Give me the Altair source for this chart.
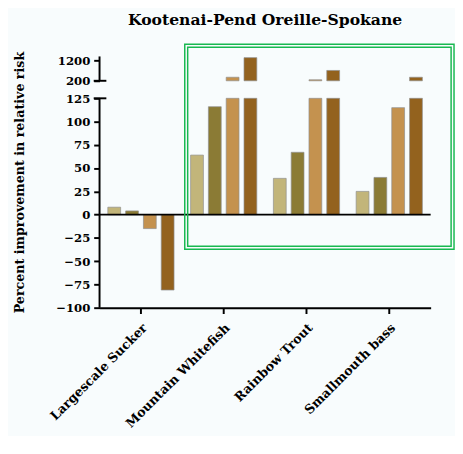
import altair as alt
import pandas as pd

categories = ["Largescale Sucker", "Mountain Whitefish", "Rainbow Trout", "Smallmouth bass"]
series = ["Scenario 1", "Scenario 2", "Scenario 3", "Scenario 4"]
largescale_sucker = [8, 4, -15, -81]
mountain_whitefish = [64, 116, 375, 1340]
rainbow_trout = [39, 67, 250, 710]
smallmouth_bass = [25, 40, 115, 375]
colors = ["#C2B57A", "#8B7B35", "#C4924F", "#93621E"]
y_ticks = [-100, -75, -50, -25, 0, 25, 50, 75, 100, 125, 200, 1200]
axis_segments = {"y0": [-100, 200], "y1": [125, 1400]}
break_marks = [125, 200]

rows = []
for cat, vals in zip(categories, [largescale_sucker, mountain_whitefish, rainbow_trout, smallmouth_bass]):
    for s, v in zip(series, vals):
        rows.append({"cat": cat, "series": s, "value": v})
df = pd.DataFrame(rows)

W, H = 340, 258
FONT = "DejaVu Serif"
yscale = alt.Scale(domain=[-100, 125, 200, 1400], range=[H, 43, 25, 0], nice=False, zero=False)
yaxis = alt.Axis(title="Percent improvement in relative risk", values=y_ticks, format="d",
                 domain=False, grid=False, tickColor="black", tickWidth=2, tickSize=6,
                 labelFont=FONT, labelFontWeight="bold", labelFontSize=12,
                 labelColor="black", labelPadding=4,
                 titleFont=FONT, titleFontWeight="bold", titleFontSize=13,
                 titleColor="black", titlePadding=30)

xenc = alt.X("cat:N", sort=categories,
             scale=alt.Scale(paddingInner=0.2, paddingOuter=0.1),
             axis=alt.Axis(title=None, labelAngle=-45, labelFont=FONT, labelFontWeight="bold",
                           labelFontSize=13, labelColor="black", labelPadding=8,
                           domainColor="black", domainWidth=2, tickColor="black",
                           tickWidth=2, tickSize=6))
xoff = alt.XOffset("series:N", sort=series, scale=alt.Scale(paddingInner=0.28, paddingOuter=0))
color = alt.Color("series:N", sort=series, scale=alt.Scale(domain=series, range=colors), legend=None)

base = alt.Chart(df)

lower = base.transform_calculate(lo="min(datum.value, 125)").mark_bar(
    stroke="#8f8f8f", strokeWidth=1, strokeOpacity=0.7
).encode(
    x=xenc, xOffset=xoff, color=color,
    y=alt.Y("lo:Q", scale=yscale, axis=yaxis),
    y2=alt.datum(0),
)

upper = base.transform_filter("datum.value > 200").mark_bar(
    stroke="#8f8f8f", strokeWidth=1, strokeOpacity=0.7
).encode(
    x=xenc, xOffset=xoff, color=color,
    y=alt.Y("value:Q", scale=yscale, axis=yaxis),
    y2=alt.datum(200),
)

zero_line = alt.Chart(pd.DataFrame({"z": [0]})).mark_rule(color="black", strokeWidth=2).encode(
    y=alt.Y("z:Q", scale=yscale, axis=yaxis)
)

yaxis_line = alt.Chart(pd.DataFrame(axis_segments)).mark_rule(color="black", strokeWidth=2).encode(
    x=alt.value(0), y=alt.Y("y0:Q", scale=yscale, axis=yaxis), y2="y1:Q"
)

breaks = alt.Chart(pd.DataFrame({"b": break_marks})).mark_rule(color="black", strokeWidth=2).encode(
    x=alt.value(-6), x2=alt.value(7), y=alt.Y("b:Q", scale=yscale, axis=yaxis)
)

dummy = pd.DataFrame({"k": [0]})
box_outer = alt.Chart(dummy).mark_rect(fillOpacity=0, stroke="#18B850", strokeWidth=1.5).encode(
    x=alt.value(87.5), x2=alt.value(364), y=alt.value(-12.5), y2=alt.value(198)
)
box_inner = alt.Chart(dummy).mark_rect(fillOpacity=0, stroke="#18B850", strokeWidth=1.5).encode(
    x=alt.value(90.5), x2=alt.value(361), y=alt.value(-9.5), y2=alt.value(195)
)

chart = alt.layer(lower, upper, zero_line, yaxis_line, breaks, box_outer, box_inner).properties(
    width=W, height=H,
    title=alt.TitleParams("Kootenai-Pend Oreille-Spokane", font=FONT, fontSize=16,
                          fontWeight="bold", color="black", frame="group", anchor="middle",
                          offset=16),
    background="#F8FCFD",
    padding={"left": 5, "top": -2, "right": 0, "bottom": 0},
).configure_view(stroke=None)

chart.save("out.html", embed_options={"renderer": "svg", "actions": False})
